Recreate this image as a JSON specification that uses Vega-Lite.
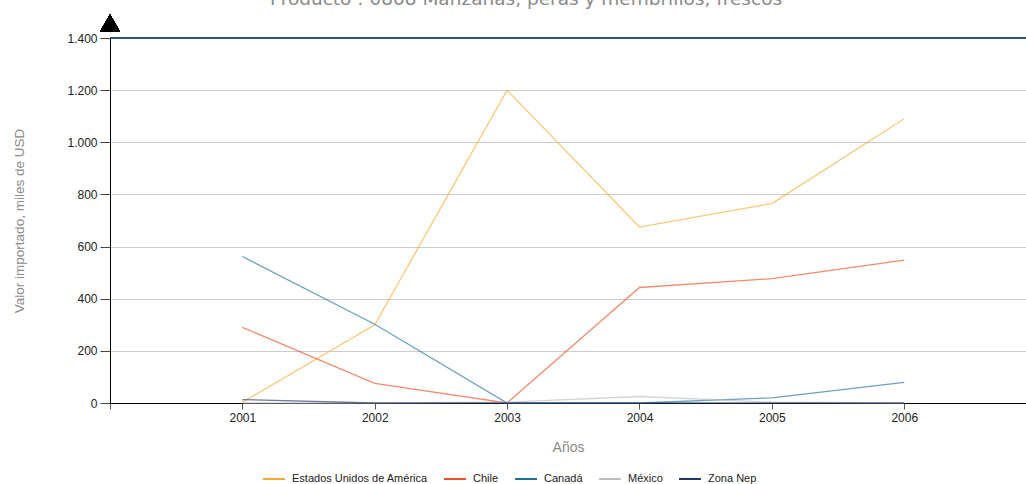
{
  "$schema": "https://vega.github.io/schema/vega-lite/v6.json",
  "width": 916,
  "height": 365,
  "autosize": {"type": "none"},
  "padding": {"left": 110, "top": 38, "right": 0, "bottom": 81},
  "background": "white",
  "config": {
    "view": {"stroke": null},
    "font": "Liberation Sans"
  },
  "title": {
    "text": "Producto : 0808 Manzanas, peras y membrillos, frescos",
    "font": "DejaVu Sans",
    "fontSize": 18.5,
    "fontWeight": "normal",
    "color": "#8a8a8a",
    "anchor": "middle",
    "baseline": "alphabetic",
    "dx": -42,
    "offset": -9
  },
  "data": {
    "values": [
      {"anio": 2001, "pais": "Estados Unidos de América", "valor": 3},
      {"anio": 2002, "pais": "Estados Unidos de América", "valor": 300},
      {"anio": 2003, "pais": "Estados Unidos de América", "valor": 1200},
      {"anio": 2004, "pais": "Estados Unidos de América", "valor": 675},
      {"anio": 2005, "pais": "Estados Unidos de América", "valor": 765},
      {"anio": 2006, "pais": "Estados Unidos de América", "valor": 1090},
      {"anio": 2001, "pais": "Chile", "valor": 290},
      {"anio": 2002, "pais": "Chile", "valor": 75},
      {"anio": 2003, "pais": "Chile", "valor": 0},
      {"anio": 2004, "pais": "Chile", "valor": 443},
      {"anio": 2005, "pais": "Chile", "valor": 477},
      {"anio": 2006, "pais": "Chile", "valor": 548},
      {"anio": 2001, "pais": "Canadá", "valor": 562},
      {"anio": 2002, "pais": "Canadá", "valor": 302},
      {"anio": 2003, "pais": "Canadá", "valor": 0},
      {"anio": 2004, "pais": "Canadá", "valor": 0},
      {"anio": 2005, "pais": "Canadá", "valor": 20},
      {"anio": 2006, "pais": "Canadá", "valor": 79},
      {"anio": 2001, "pais": "México", "valor": 0},
      {"anio": 2002, "pais": "México", "valor": 0},
      {"anio": 2003, "pais": "México", "valor": 3},
      {"anio": 2004, "pais": "México", "valor": 25},
      {"anio": 2005, "pais": "México", "valor": 3},
      {"anio": 2006, "pais": "México", "valor": 0},
      {"anio": 2001, "pais": "Zona Nep", "valor": 13},
      {"anio": 2002, "pais": "Zona Nep", "valor": 0},
      {"anio": 2003, "pais": "Zona Nep", "valor": 0},
      {"anio": 2004, "pais": "Zona Nep", "valor": 0},
      {"anio": 2005, "pais": "Zona Nep", "valor": 0},
      {"anio": 2006, "pais": "Zona Nep", "valor": 0}
    ]
  },
  "layer": [
    {
      "mark": {"type": "rule", "color": "#2f5288", "strokeWidth": 1.2},
      "encoding": {"y": {"datum": 1400, "type": "quantitative"}}
    },
    {
      "mark": {"type": "line", "strokeWidth": 1.3, "opacity": 0.65},
      "encoding": {
        "x": {
          "field": "anio",
          "type": "quantitative",
          "scale": {"domain": [2000, 2006.92], "nice": false, "zero": false},
          "axis": {
            "title": "Años",
            "titleColor": "#8a8a8a",
            "titleFont": "Liberation Sans",
            "titleFontSize": 14,
            "titleFontWeight": "normal",
            "titlePadding": 17,
            "values": [2000, 2001, 2002, 2003, 2004, 2005, 2006],
            "labelExpr": "datum.value == 2000 ? '' : format(datum.value, 'd')",
            "labelColor": "#222222",
            "labelFontSize": 12,
            "labelPadding": 3,
            "domainColor": "#000000",
            "domainWidth": 1,
            "tickColor": "#555555",
            "tickSize": 6,
            "grid": false
          }
        },
        "y": {
          "field": "valor",
          "type": "quantitative",
          "scale": {"domain": [0, 1400], "nice": false},
          "axis": {
            "title": "Valor importado, miles de USD",
            "titleColor": "#8a8a8a",
            "titleFont": "Liberation Sans",
            "titleFontSize": 13.5,
            "titleFontWeight": "normal",
            "titlePadding": 40,
            "values": [0, 200, 400, 600, 800, 1000, 1200, 1400],
            "labelExpr": "replace(format(datum.value, ','), ',', '.')",
            "labelColor": "#222222",
            "labelFontSize": 12,
            "labelPadding": 3,
            "domainColor": "#000000",
            "domainWidth": 1,
            "tickColor": "#444444",
            "tickSize": 10,
            "grid": true,
            "gridColor": "#cccccc",
            "gridWidth": 1
          }
        },
        "color": {
          "field": "pais",
          "type": "nominal",
          "scale": {
            "domain": ["Estados Unidos de América", "Chile", "Canadá", "México", "Zona Nep"],
            "range": ["#f9a931", "#ec4f22", "#1d6e9e", "#bdbdbd", "#1f3468"]
          },
          "legend": {
            "title": null,
            "orient": "none",
            "direction": "horizontal",
            "legendX": 152,
            "legendY": 429,
            "symbolType": "stroke",
            "symbolSize": 480,
            "symbolStrokeWidth": 2,
            "symbolOpacity": 1,
            "labelFontSize": 11,
            "labelColor": "#222222",
            "labelOffset": 6,
            "columnPadding": 12,
            "encode": {
              "symbols": {"update": {"opacity": {"value": 1}, "strokeOpacity": {"value": 1}}}
            }
          }
        }
      }
    },
    {
      "mark": {"type": "point", "shape": "triangle-up", "filled": true, "color": "#000000", "opacity": 1, "size": 380, "clip": false},
      "encoding": {
        "x": {"datum": 2000, "type": "quantitative"},
        "y": {"datum": 1458, "type": "quantitative"}
      }
    }
  ]
}
